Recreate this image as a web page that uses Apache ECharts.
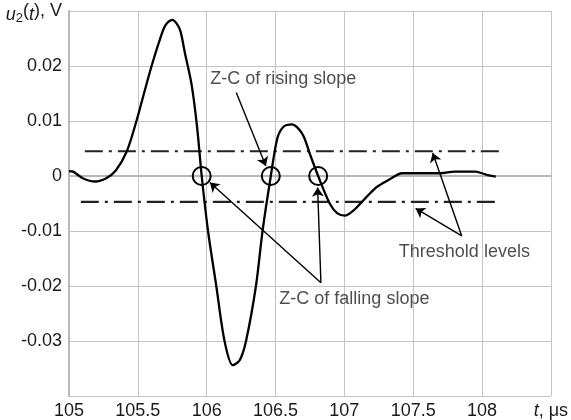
<!DOCTYPE html>
<html><head><meta charset="utf-8">
<script src="https://cdn.jsdelivr.net/npm/echarts/dist/echarts.min.js"></script>
<style>html,body{margin:0;padding:0;background:#fff}#c{width:571px;height:420px}</style>
</head><body><div id="c"></div>
<script>
// time, microseconds
const timeUs = [105.0, 105.03, 105.1, 105.19, 105.27, 105.34, 105.42, 105.49, 105.55, 105.6,
  105.66, 105.70, 105.75, 105.78, 105.81, 105.84, 105.89, 105.93, 105.964, 106.01,
  106.07, 106.13, 106.19, 106.24, 106.286, 106.358, 106.406, 106.466, 106.514, 106.56,
  106.62, 106.66, 106.705, 106.75, 106.81, 106.896, 106.95, 107.004, 107.07, 107.136,
  107.23, 107.33, 107.42, 107.55, 107.7, 107.8, 107.95, 108.0, 108.05, 108.10];
// u2(t), volts
const voltage = [0.0009, 0.0008, -0.0004, -0.001, -0.0004, 0.001, 0.0045, 0.01, 0.0155, 0.02,
  0.0248, 0.0274, 0.0284, 0.0278, 0.0263, 0.0226, 0.0167, 0.009, 0, -0.01,
  -0.02, -0.03, -0.0344, -0.0335, -0.03, -0.02, -0.01, 0, 0.0069, 0.009,
  0.0094, 0.0088, 0.0072, 0.004, 0, -0.0051, -0.0068, -0.0072, -0.0062, -0.0045,
  -0.0021, -0.0006, 0.0005, 0.0005, 0.0005, 0.0008, 0.0008, 0.0005, 0.0001, -0.0001];
const zeroCrossings = [105.964, 106.466, 106.81];
const thresholdUpper = 0.0045;
const thresholdLower = -0.0047;
const thresholdUpperSpan = [105.115, 108.147];
const thresholdLowerSpan = [105.086, 108.12];
const annotationTexts = ['Z-C of rising slope', 'Z-C of falling slope', 'Threshold levels'];
const annotationAnchors = [[106.026, 0.01757], [106.528, -0.02228], [107.396, -0.01377]];
const arrowStarts = [[106.215, 0.0152], [106.83, -0.0194], [106.83, -0.0194], [107.853, -0.0109], [107.853, -0.0109]];
const arrowEnds = [[106.43, 0.0018], [106.024, -0.0012], [106.806, -0.0021], [107.642, 0.0042], [107.518, -0.0059]];
const xMin = 105, xMax = 108.5, xStep = 0.5;
const yMin = -0.04, yMax = 0.03, yStep = 0.01;

const FONT = 'Liberation Sans, Arial, sans-serif';
const chart = echarts.init(document.getElementById('c'), null, {renderer: 'canvas'});
const near = (a, b) => Math.abs(a - b) < 1e-9;
const gridColor = '#c4c4c4';

chart.setOption({
  animation: false,
  backgroundColor: '#fff',
  grid: {left: 69, right: 14, top: 11, bottom: 24, containLabel: false},
  xAxis: {
    type: 'value', min: xMin, max: xMax, interval: xStep,
    axisLine: {show: true, lineStyle: {color: '#b8b8b8', width: 2}},
    axisTick: {show: false},
    splitLine: {show: true, lineStyle: {color: gridColor, width: 1}},
    axisLabel: {
      show: true, showMinLabel: true, showMaxLabel: true, margin: 6,
      color: '#1a1a1a', fontSize: 18, fontFamily: FONT,
      formatter: v => near(v, xMax) ? '{i|t}, μs' : String(v),
      rich: {i: {fontStyle: 'italic', fontSize: 18, fontFamily: FONT, color: '#1a1a1a'}}
    }
  },
  yAxis: {
    type: 'value', min: yMin, max: yMax, interval: yStep,
    axisLine: {show: true, lineStyle: {color: '#b8b8b8', width: 2}},
    axisTick: {show: false},
    splitLine: {show: true, lineStyle: {color: gridColor, width: 1}},
    axisLabel: {
      show: true, showMinLabel: true, showMaxLabel: true, margin: 7,
      color: '#1a1a1a', fontSize: 18, fontFamily: FONT,
      formatter: v => {
        if (near(v, yMin)) return '';
        if (near(v, yMax)) return '{i|u}{s|2}({i|t}), V';
        return String(+v.toFixed(4));
      },
      rich: {
        i: {fontStyle: 'italic', fontSize: 18, fontFamily: FONT, color: '#1a1a1a', padding: [8, 0, 0, 0]},
        s: {fontSize: 13, fontFamily: FONT, color: '#1a1a1a', padding: [14, 0, 0, 0]},
      }
    }
  },
  series: [
    {
      type: 'line', data: timeUs.map((t, i) => [t, voltage[i]]),
      smooth: 0.3, symbol: 'none', z: 5,
      lineStyle: {color: '#000', width: 2.3}
    },
    {
      type: 'line', data: thresholdUpperSpan.map(t => [t, thresholdUpper]),
      symbol: 'none', z: 4,
      lineStyle: {color: '#222', width: 2.2, type: [18, 6, 3, 6]}
    },
    {
      type: 'line', data: thresholdLowerSpan.map(t => [t, thresholdLower]),
      symbol: 'none', z: 4,
      lineStyle: {color: '#222', width: 2.2, type: [18, 6, 3, 6]}
    },
    {
      type: 'scatter', data: zeroCrossings.map(t => [t, 0]),
      symbol: 'circle', symbolSize: 18, z: 6,
      itemStyle: {color: 'rgba(0,0,0,0)', borderColor: '#000', borderWidth: 2, opacity: 1}
    },
    {
      type: 'scatter', symbolSize: 0, z: 7, silent: true,
      data: annotationAnchors.map((p, i) => ({value: p, name: annotationTexts[i]})),
      label: {
        show: true, position: 'right', distance: 0, formatter: p => p.name,
        color: '#222', fontSize: 18, fontFamily: FONT
      },
      markLine: {
        silent: true, symbol: ['none', 'arrow'], symbolSize: 9,
        label: {show: false},
        lineStyle: {color: '#000', width: 1.4, type: 'solid', opacity: 1},
        data: arrowStarts.map((s, i) => [{coord: s}, {coord: arrowEnds[i]}])
      }
    }
  ]
});
</script></body></html>
